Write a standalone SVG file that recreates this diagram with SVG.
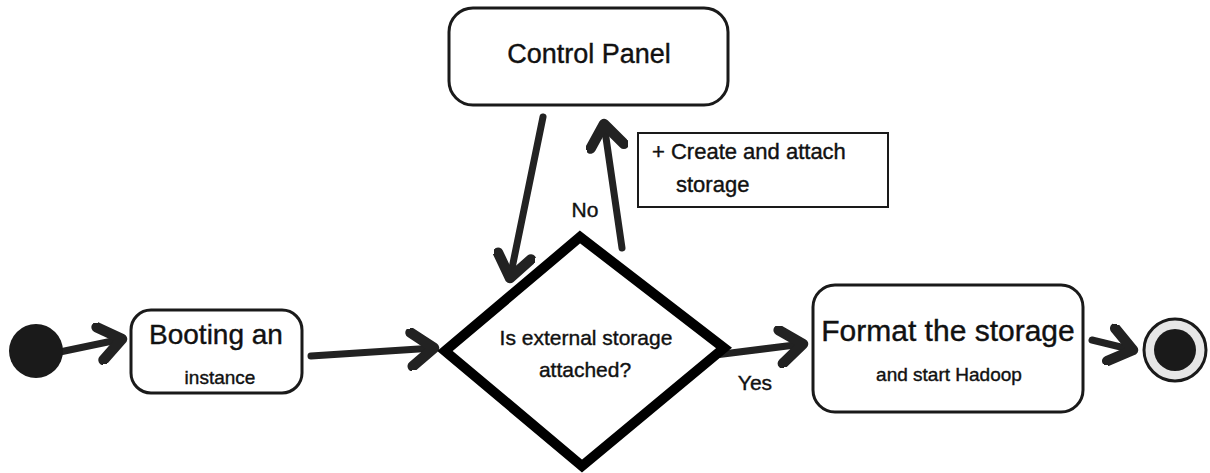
<svg xmlns="http://www.w3.org/2000/svg" width="1210" height="473" viewBox="0 0 1210 473">
<style>
.box{fill:#fff;stroke:#1a1a1a;stroke-width:3}
.t{font-family:"Liberation Sans",Arial,sans-serif;fill:#111;text-anchor:middle;stroke:#111;stroke-width:0.4}
.l{font-family:"Liberation Sans",Arial,sans-serif;fill:#111;stroke:#111;stroke-width:0.4}
.conn{stroke:#222;stroke-width:7;fill:none;stroke-linecap:round}
</style>
<defs>
<marker id="ah" markerWidth="6" markerHeight="6" refX="4" refY="3" orient="auto" markerUnits="strokeWidth">
<path d="M0.8,0.6 L4,3 L0.8,5.4" fill="none" stroke="#222" stroke-width="1.5" stroke-linecap="round" stroke-linejoin="round"/>
</marker>
</defs>
<rect width="1210" height="473" fill="#fff"/>
<g id="connectors">
<line class="conn" x1="55" y1="353" x2="122" y2="339" marker-end="url(#ah)"/>
<line class="conn" x1="311" y1="356" x2="434" y2="348" marker-end="url(#ah)"/>
<line class="conn" x1="543" y1="117" x2="510" y2="278" marker-end="url(#ah)"/>
<line class="conn" x1="622" y1="248" x2="604" y2="124" marker-end="url(#ah)"/>
<line class="conn" x1="715" y1="355" x2="803" y2="344" marker-end="url(#ah)"/>
<line class="conn" x1="1092" y1="340" x2="1133" y2="350" marker-end="url(#ah)"/>
<text class="t" x="585" y="217" font-size="21">No</text>
<text class="t" x="755" y="390" font-size="21">Yes</text>
</g>
<g id="start">
<circle cx="36" cy="351" r="27" fill="#1a1a1a"/>
</g>
<g id="booting">
<rect class="box" x="131" y="310" width="171" height="83" rx="20"/>
<text class="t" x="216" y="344" font-size="28">Booting an</text>
<text class="t" x="220" y="384" font-size="19">instance</text>
</g>
<g id="decision">
<polygon points="580,237 724,348 582,466 445,351" fill="#fff" stroke="#000" stroke-width="10" stroke-linejoin="miter"/>
<text class="t" x="586" y="345" font-size="21">Is external storage</text>
<text class="t" x="585" y="377" font-size="21">attached?</text>
</g>
<g id="control">
<rect class="box" x="449" y="8" width="279" height="97" rx="24"/>
<text class="t" x="589" y="63" font-size="27">Control Panel</text>
</g>
<g id="note">
<rect x="638" y="133" width="250" height="74" fill="#fff" stroke="#1a1a1a" stroke-width="2"/>
<text class="l" x="652" y="159" font-size="22">+ Create and attach</text>
<text class="l" x="676" y="192" font-size="22">storage</text>
</g>
<g id="format">
<rect class="box" x="813" y="285" width="270" height="127" rx="22"/>
<text class="t" x="948" y="341" font-size="30">Format the storage</text>
<text class="t" x="949" y="381" font-size="19">and start Hadoop</text>
</g>
<g id="end">
<circle cx="1175" cy="350" r="31" fill="#e6e6e6" stroke="#1a1a1a" stroke-width="3"/>
<circle cx="1175" cy="350" r="21" fill="#1a1a1a"/>
</g>
</svg>
